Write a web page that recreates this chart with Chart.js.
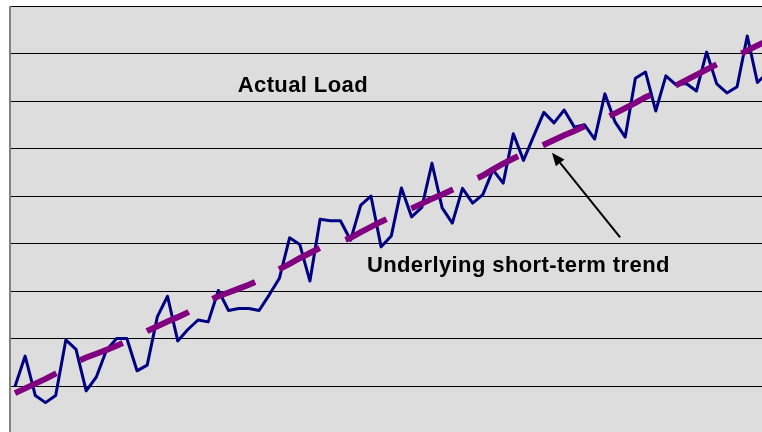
<!DOCTYPE html>
<html>
<head>
<meta charset="utf-8">
<script src="https://cdn.jsdelivr.net/npm/chart.js@4/dist/chart.umd.min.js"></script>
<style>
    html, body { margin: 0; padding: 0; background: #ffffff; }
    #wrap { width: 762px; height: 432px; }
</style>
</head>
<body>
<div id="wrap"><canvas id="loadChart" width="762" height="432"></canvas></div>
<script>
// Actual load, one value per period
const actualLoad = [
    9.9, 16.3, 8.0, 6.5, 8.0, 19.7, 17.7, 9.0, 11.9, 17.6,
    20.0, 20.0, 13.2, 14.4, 24.6, 28.9, 19.5, 21.9, 23.9, 23.5,
    30.1, 25.9, 26.3, 26.3, 25.9, 29.2, 32.7, 41.2, 39.8, 32.1,
    45.1, 44.8, 44.8, 40.7, 48.1, 50.0, 39.3, 41.6, 51.7, 45.6,
    47.6, 56.9, 47.5, 44.3, 51.6, 48.5, 50.3, 55.5, 52.7, 63.1,
    57.5, 62.6, 67.6, 65.4, 68.1, 64.5, 65.0, 62.0, 71.5, 65.6,
    62.4, 74.8, 76.1, 67.9, 75.3, 73.4, 73.7, 72.1, 80.3, 73.6,
    71.7, 73.0, 83.7, 73.9, 76.0
];

// Underlying short-term trend
const trendLoad = [
    8.5, 9.5, 10.5, 11.5, 12.6, 13.8, 15.0, 16.0, 16.8, 17.6,
    18.5, 19.4, 20.5, 21.6, 22.6, 23.6, 24.5, 25.5, 26.7, 27.9,
    28.9, 29.7, 30.5, 31.3, 32.3, 33.4, 34.6, 35.7, 36.9, 38.0,
    39.1, 39.8, 40.4, 41.2, 42.4, 43.5, 44.6, 45.6, 46.5, 47.4,
    48.4, 49.4, 50.3, 51.3, 52.3, 53.3, 54.3, 55.6, 56.8, 57.9,
    58.9, 59.8, 60.8, 61.8, 62.8, 63.7, 64.7, 65.6, 66.4, 67.4,
    68.5, 69.6, 70.8, 71.7, 72.5, 73.3, 74.4, 75.5, 76.6, 77.7,
    78.6, 79.6, 80.6, 81.7, 82.7
];

const gridValues = [10, 20, 30, 40, 50, 60, 70, 80, 90];

// annotations in data units: [period, load]
const labelActual = { text: 'Actual Load', at: [21.9, 72.0] };
const labelTrend = { text: 'Underlying short-term trend', at: [34.6, 33.9] };
const arrowFrom = [59.5, 41.3];
const arrowTo = [52.8, 59.1];

function toPoints(values) {
    return values.map((v, i) => ({ x: i, y: v }));
}

const plotBackground = {
    id: 'plotBackground',
    beforeDraw(chart) {
        const { ctx, chartArea } = chart;
        ctx.save();
        ctx.fillStyle = '#dddddd';
        ctx.fillRect(chartArea.left, chartArea.top, chartArea.right - chartArea.left, chartArea.bottom - chartArea.top);
        ctx.restore();
    },
    afterDraw(chart) {
        const { ctx, chartArea } = chart;
        ctx.save();
        ctx.strokeStyle = '#808080';
        ctx.lineWidth = 2;
        ctx.beginPath();
        ctx.moveTo(chartArea.left, chartArea.top);
        ctx.lineTo(chartArea.left, chartArea.bottom);
        ctx.stroke();
        ctx.restore();
    }
};

const annotations = {
    id: 'annotations',
    afterDatasetsDraw(chart) {
        const { ctx } = chart;
        const xs = chart.scales.x;
        const ys = chart.scales.y;
        const px = p => [xs.getPixelForValue(p[0]), ys.getPixelForValue(p[1])];

        ctx.save();
        ctx.fillStyle = '#000000';
        ctx.font = 'bold 22px "Liberation Sans", Arial, sans-serif';
        ctx.letterSpacing = '0.4px';
        ctx.textBaseline = 'alphabetic';
        [labelActual, labelTrend].forEach(l => {
            const [x, y] = px(l.at);
            ctx.fillText(l.text, x, y);
        });

        // arrow
        const [x1, y1] = px(arrowFrom);
        const [x2, y2] = px(arrowTo);
        const ang = Math.atan2(y2 - y1, x2 - x1);
        const headLen = 13, headW = 5.5;
        const bx = x2 - headLen * Math.cos(ang);
        const by = y2 - headLen * Math.sin(ang);
        ctx.strokeStyle = '#000000';
        ctx.lineWidth = 2;
        ctx.beginPath();
        ctx.moveTo(x1, y1);
        ctx.lineTo(bx, by);
        ctx.stroke();
        ctx.beginPath();
        ctx.moveTo(x2, y2);
        ctx.lineTo(bx + headW * Math.sin(ang), by - headW * Math.cos(ang));
        ctx.lineTo(bx - headW * Math.sin(ang), by + headW * Math.cos(ang));
        ctx.closePath();
        ctx.fill();
        ctx.restore();
    }
};

new Chart(document.getElementById('loadChart').getContext('2d'), {
    type: 'line',
    data: {
        datasets: [{
            label: 'Actual Load',
            data: toPoints(actualLoad),
            borderColor: '#000080',
            borderWidth: 3,
            borderJoinStyle: 'round',
            pointRadius: 0,
            tension: 0,
            order: 2
        }, {
            label: 'Underlying short-term trend',
            data: toPoints(trendLoad),
            borderColor: '#800080',
            borderWidth: 6,
            borderDash: [46, 27],
            borderCapStyle: 'butt',
            pointRadius: 0,
            tension: 0,
            order: 1
        }]
    },
    options: {
        responsive: false,
        animation: false,
        layout: { padding: { left: 10, top: 6, right: 0, bottom: 0 } },
        plugins: {
            legend: { display: false },
            tooltip: { enabled: false }
        },
        scales: {
            x: {
                type: 'linear',
                display: false,
                min: -0.49,
                max: 73.45
            },
            y: {
                type: 'linear',
                min: 0.32,
                max: 90,
                afterBuildTicks: axis => {
                    axis.ticks = gridValues.map(v => ({ value: v }));
                },
                ticks: { display: false },
                border: { display: false },
                grid: { color: '#000000', lineWidth: 1, drawTicks: false }
            }
        }
    },
    plugins: [plotBackground, annotations]
});
</script>
</body>
</html>
